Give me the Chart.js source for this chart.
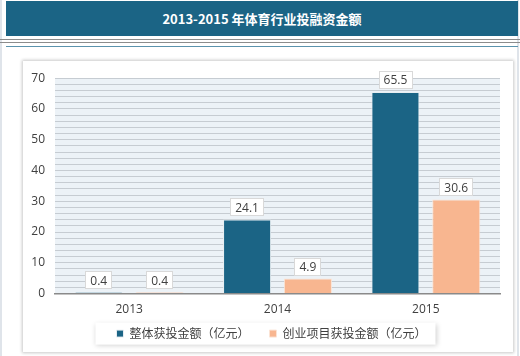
<!DOCTYPE html>
<html><head><meta charset="utf-8">
<script src="https://cdn.jsdelivr.net/npm/chart.js@4"></script>
<style>
html,body{margin:0;padding:0;background:#fff;width:520px;height:356px;overflow:hidden;position:relative;font-family:"Noto Sans CJK SC","Noto Sans",sans-serif;}
#frameL{position:absolute;left:0;top:0;width:2px;height:356px;background:#dfe4ea;}
#frameR{position:absolute;left:517px;top:0;width:2px;height:356px;background:#dfe4ea;}
#hdr{position:absolute;left:6px;top:1px;width:512px;height:35px;background:#1b6485;color:#fff;font-weight:bold;font-size:13px;line-height:35px;text-align:center;}
#l1{position:absolute;left:0;top:39px;width:520px;height:1px;background:#8c8c8c;}
#l2{position:absolute;left:0;top:42px;width:520px;height:1px;background:#8c8c8c;}
#l3{position:absolute;left:6px;top:46px;width:512px;height:1px;background:#5b93ad;}
#card{position:absolute;left:23px;top:61px;width:490px;height:291px;background:#fff;box-shadow:0 0 3px 1px #c8c8c8;}
#card canvas{position:absolute;left:0;top:0;}
</style></head>
<body>
<div id="frameL"></div><div id="frameR"></div>
<div id="hdr">2013-2015 年体育行业投融资金额</div>
<div id="l1"></div><div id="l2"></div><div id="l3"></div>
<div id="card"><canvas id="c" width="490" height="291"></canvas></div>
<script>
const categories = ["2013", "2014", "2015"];
const seriesNames = ["整体获投金额（亿元）", "创业项目获投金额（亿元）"];
const totalValues = [0.4, 24.1, 65.5];
const startupValues = [0.4, 4.9, 30.6];
const yTicks = [0, 10, 20, 30, 40, 50, 60, 70];

const NUM_FONT = "'Open Sans','Noto Sans',sans-serif";
const CJK_FONT = "'Noto Sans CJK SC','Noto Sans',sans-serif";
const LEGEND_PAD = 20;

const legendShift = {
  id: 'legendShift',
  afterLayout(chart) {
    const lg = chart.legend;
    if (!lg) return;
    const itemCenter = lg.top + LEGEND_PAD + 6;
    const want = chart.chartArea.bottom + 40;
    const dy = want - itemCenter;
    lg.top += dy; lg.bottom += dy;
    lg.left += 10; lg.right += 10;
  }
};

const bgPlugin = {
  id: 'bg',
  beforeDraw(chart) {
    const {ctx, chartArea: a} = chart;
    ctx.save();
    ctx.fillStyle = '#ecf2f7';
    ctx.fillRect(a.left, a.top, a.right - a.left, a.bottom - a.top);
    const lg = chart.legend;
    if (lg && lg.legendHitBoxes && lg.legendHitBoxes.length) {
      const hb = lg.legendHitBoxes;
      const first = hb[0], last = hb[hb.length - 1];
      const cy = first.top + first.height / 2;
      ctx.shadowColor = 'rgba(0,0,0,0.18)';
      ctx.shadowBlur = 5;
      ctx.shadowOffsetX = 1; ctx.shadowOffsetY = 1;
      ctx.fillStyle = '#fff';
      ctx.fillRect(first.left - 21, cy - 11, (last.left + last.width) - first.left + 30, 22);
    }
    ctx.restore();
  }
};

const labelPlugin = {
  id: 'lbl',
  afterDatasetsDraw(chart) {
    const ctx = chart.ctx;
    ctx.save();
    ctx.font = "12px " + NUM_FONT;
    ctx.textAlign = 'center';
    ctx.textBaseline = 'middle';
    chart.data.datasets.forEach((ds, i) => {
      chart.getDatasetMeta(i).data.forEach((bar, j) => {
        const txt = String(ds.data[j]);
        const w = ctx.measureText(txt).width + 10;
        const h = 18;
        const cx = bar.x, cy = bar.y - 12;
        ctx.fillStyle = '#fff';
        ctx.fillRect(Math.round(cx - w/2), Math.round(cy - h/2), Math.round(w), h);
        ctx.strokeStyle = '#d9d9d9';
        ctx.lineWidth = 1;
        ctx.strokeRect(Math.round(cx - w/2) + 0.5, Math.round(cy - h/2) + 0.5, Math.round(w) - 1, h - 1);
        ctx.fillStyle = '#404040';
        ctx.fillText(txt, cx, cy + 1);
      });
    });
    ctx.restore();
  }
};

new Chart(document.getElementById('c'), {
  type: 'bar',
  data: {
    labels: categories,
    datasets: [
      {label: seriesNames[0], data: totalValues, backgroundColor: '#1b6485', borderColor: '#e8eef2', borderWidth: 1,
       categoryPercentage: 0.82, barPercentage: 0.79},
      {label: seriesNames[1], data: startupValues, backgroundColor: '#f8b690', borderColor: '#fbe3d4', borderWidth: 1,
       categoryPercentage: 0.82, barPercentage: 0.79}
    ]
  },
  options: {
    responsive: false,
    animation: false,
    events: [],
    layout: {padding: {left: 0, right: 13, top: 6, bottom: -16}},
    scales: {
      x: {
        grid: {display: false, drawTicks: false},
        border: {display: true, color: '#8a8a8a', width: 1.5},
        ticks: {color: '#404040', font: {family: NUM_FONT, size: 12}, padding: 9}
      },
      y: {
        min: 0, max: 70,
        afterFit(s) { s.width = 32; },
        afterBuildTicks(s) {
          const t = [];
          for (let v = 0; v <= 70; v += 2) t.push({value: v});
          s.ticks = t;
        },
        border: {display: false},
        grid: {color: '#c6ccd2', lineWidth: 1, drawTicks: false},
        ticks: {
          color: '#404040', font: {family: NUM_FONT, size: 12}, padding: 10, autoSkip: false,
          callback: (v) => yTicks.includes(v) ? String(v) : ''
        }
      }
    },
    plugins: {
      legend: {
        position: 'bottom',
        labels: {
          boxWidth: 7, boxHeight: 7,
          color: '#404040', font: {family: CJK_FONT, size: 12}, padding: LEGEND_PAD
        }
      },
      tooltip: {enabled: false}
    }
  },
  plugins: [legendShift, bgPlugin, labelPlugin]
});
</script>
</body></html>
